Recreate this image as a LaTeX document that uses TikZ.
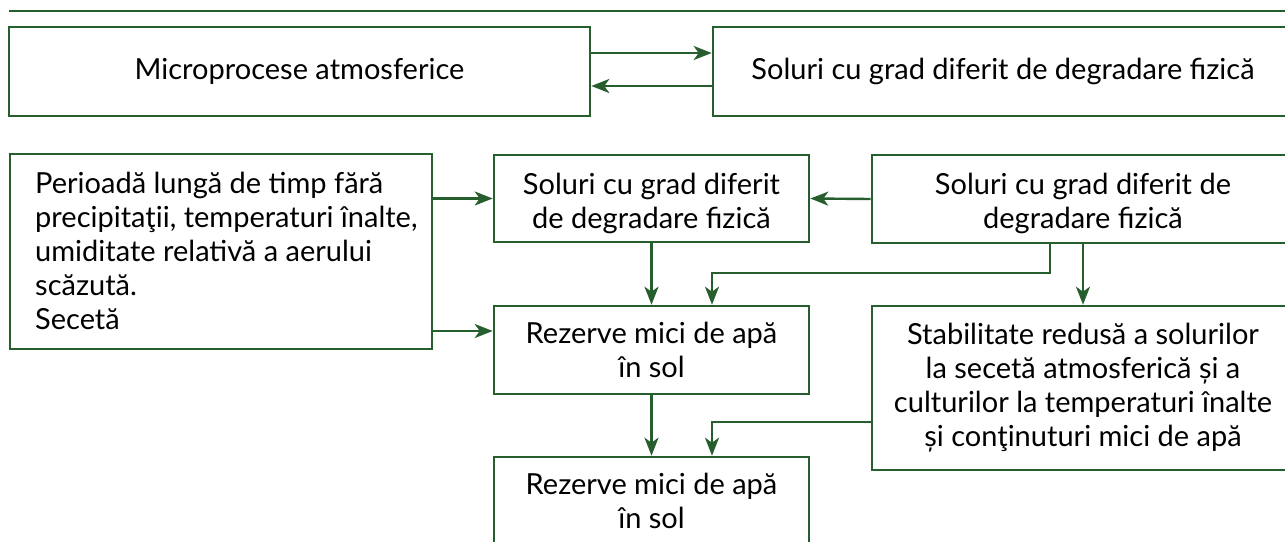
\documentclass[tikz,border=0pt]{standalone}
\usepackage{fontspec}
\setmainfont{Lato}
\usetikzlibrary{arrows.meta}
\definecolor{leaf}{RGB}{38,94,46}
% taller first line, lowers a two-line label a little inside its box
\newcommand\droptext{\rule{0pt}{31pt}}
\begin{document}
\begin{tikzpicture}[x=1pt,y=-1pt,
  box/.style={draw=leaf, line width=2.6pt, inner sep=0pt, align=center,
    text=black, font=\fontsize{29}{34}\selectfont},
  plain/.style={inner sep=0pt, align=left, text=black,
    font=\fontsize{29}{34}\selectfont},
  arr/.style={draw=leaf, line width=2.4pt,
    -{Stealth[length=18pt,width=14pt,inset=5pt]}},
  link/.style={draw=leaf, line width=2.4pt}]
\useasboundingbox (0,0) rectangle (1285,541);
\clip (0,0) rectangle (1285,541);

% heading rule
\coordinate (ruleL) at (9,11);
\coordinate (ruleR) at (1290,11);
\draw[link] (ruleL) -- (ruleR);

% top row
\node[box, minimum width=581pt, minimum height=89pt] (micro) at (299.5,71.5)
  {Microprocese atmosferice};
\node[box, minimum width=580pt, minimum height=89pt] (solA) at (1003,71.5)
  {Soluri cu grad diferit de degradare fizică};

% left cause: frame and its left-aligned text
\node[box, minimum width=422pt, minimum height=195pt] (cause) at (221,251.5) {};
\node[plain, anchor=north west] (causeText) at (35,172)
  {Perioadă lungă de timp fără\\
   precipitaţii, temperaturi înalte,\\
   umiditate relativă a aerului\\
   scăzută.\\
   Secetă};

% middle column
\node[box, minimum width=315pt, minimum height=87pt] (solB) at (651.5,198.5)
  {\droptext Soluri cu grad diferit\\de degradare fizică};
\node[box, minimum width=315pt, minimum height=88pt] (rezA) at (651.5,350)
  {Rezerve mici de apă\\în sol};
\node[box, minimum width=315pt, minimum height=88pt] (rezB) at (651.5,501)
  {Rezerve mici de apă\\în sol};

% right column
\node[box, minimum width=422pt, minimum height=88pt] (solC) at (1083,199)
  {\droptext Soluri cu grad diferit de\\degradare fizică};
\node[box, minimum width=422pt, minimum height=164pt] (stab) at (1083,388)
  {Stabilitate redusă a solurilor\\
   la secetă atmosferică și a\\
   culturilor la temperaturi înalte\\
   și conţinuturi mici de apă};

% connectors
\draw[arr] (micro.east |- 0,53) -- (solA.west |- 0,53);
\draw[arr] (solA.west |- 0,86) -- (micro.east |- 0,86);

\draw[arr] (cause.east |- solB.west) -- (solB.west);
\draw[arr] (cause.east |- 0,331) -- (rezA.west |- 0,331);
\draw[arr] (solC.west) -- (solB.east);

\draw[arr] (solB.south) -- (rezA.north);
\draw[arr] (solC.south -| 1050,0) |- (712,273) -- (rezA.north -| 712,0);
\draw[arr] (solC.south) -- (stab.north);

\draw[arr] (rezA.south) -- (rezB.north);
\draw[arr] (stab.west |- 0,422) -| (rezB.north -| 712,0);
\end{tikzpicture}
\end{document}
